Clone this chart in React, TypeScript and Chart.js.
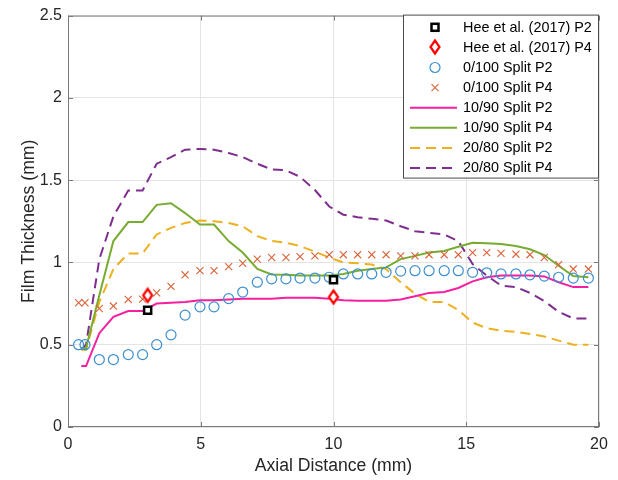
import React, { useEffect, useRef } from 'react';
import { Chart, registerables } from 'chart.js';

Chart.register(...registerables);

// ---------- data ----------
const legendLabels = [
  'Hee et al. (2017) P2',
  'Hee et al. (2017) P4',
  '0/100 Split P2',
  '0/100 Split P4',
  '10/90 Split P2',
  '10/90 Split P4',
  '20/80 Split P2',
  '20/80 Split P4',
];

const xTicks = [0, 5, 10, 15, 20];
const yTicks = [0, 0.5, 1, 1.5, 2, 2.5];

const heeX = [3, 10];
const heeP2 = [0.71, 0.895];
const heeP4 = [0.8, 0.79];

const markerX = [0.4, 0.64, 1.18, 1.71, 2.27, 2.81, 3.34, 3.88, 4.41, 4.97, 5.5, 6.05, 6.58, 7.13, 7.67, 8.21, 8.74, 9.3, 9.84, 10.37, 10.91, 11.44, 11.98, 12.53, 13.07, 13.6, 14.17, 14.7, 15.24, 15.77, 16.31, 16.87, 17.4, 17.94, 18.48, 19.03, 19.6];
const split0P2 = [0.5, 0.5, 0.41, 0.41, 0.44, 0.44, 0.5, 0.56, 0.68, 0.73, 0.73, 0.78, 0.82, 0.88, 0.9, 0.9, 0.905, 0.905, 0.91, 0.93, 0.93, 0.93, 0.94, 0.947, 0.95, 0.95, 0.95, 0.95, 0.94, 0.937, 0.93, 0.93, 0.925, 0.917, 0.91, 0.905, 0.905];
const split0P4 = [0.755, 0.755, 0.72, 0.735, 0.775, 0.777, 0.815, 0.855, 0.925, 0.95, 0.95, 0.975, 0.995, 1.02, 1.03, 1.03, 1.035, 1.04, 1.047, 1.047, 1.047, 1.047, 1.047, 1.04, 1.04, 1.047, 1.047, 1.047, 1.06, 1.06, 1.055, 1.05, 1.047, 1.03, 0.987, 0.96, 0.96];

const lineX = [0.5, 0.68, 1.18, 1.71, 2.27, 2.81, 3.34, 3.88, 4.41, 4.97, 5.5, 6.05, 6.58, 7.13, 7.67, 8.21, 8.74, 9.3, 9.84, 10.37, 10.91, 11.44, 11.98, 12.53, 13.07, 13.6, 14.17, 14.7, 15.24, 15.77, 16.31, 16.87, 17.4, 17.94, 18.48, 19.03, 19.6];
const split10P2 = [0.37, 0.37, 0.57, 0.67, 0.705, 0.705, 0.75, 0.755, 0.76, 0.77, 0.77, 0.775, 0.78, 0.78, 0.78, 0.785, 0.785, 0.785, 0.78, 0.77, 0.767, 0.767, 0.767, 0.775, 0.795, 0.815, 0.82, 0.845, 0.885, 0.91, 0.92, 0.92, 0.92, 0.915, 0.88, 0.85, 0.85];
const split10P4 = [0.48, 0.48, 0.8, 1.13, 1.245, 1.245, 1.35, 1.36, 1.3, 1.23, 1.23, 1.13, 1.06, 0.96, 0.927, 0.925, 0.92, 0.92, 0.92, 0.93, 0.95, 0.96, 0.97, 1.02, 1.04, 1.06, 1.07, 1.095, 1.12, 1.117, 1.112, 1.1, 1.08, 1.045, 0.98, 0.917, 0.91];
const split20P2 = [0.47, 0.47, 0.76, 0.96, 1.055, 1.055, 1.17, 1.21, 1.24, 1.255, 1.25, 1.24, 1.22, 1.16, 1.13, 1.12, 1.1, 1.065, 1.03, 1.0, 0.995, 0.987, 0.96, 0.88, 0.81, 0.76, 0.76, 0.71, 0.635, 0.6, 0.585, 0.578, 0.565, 0.55, 0.525, 0.5, 0.5];
const split20P4 = [0.47, 0.5, 1.02, 1.28, 1.437, 1.437, 1.6, 1.64, 1.685, 1.69, 1.685, 1.665, 1.64, 1.6, 1.565, 1.56, 1.52, 1.44, 1.34, 1.29, 1.275, 1.265, 1.255, 1.22, 1.19, 1.18, 1.17, 1.13, 0.99, 0.92, 0.86, 0.85, 0.815, 0.765, 0.7, 0.66, 0.66];

// ---------- styles ----------
const FONT = '"Liberation Sans", Arial, Helvetica, sans-serif';
const TEXT = '#262626';
const C_BLUE = '#3b8fd0';
const C_ORANGE = '#d9633a';
const C_MAGENTA = '#f61fa0';
const C_GREEN = '#77ac30';
const C_YELLOW = '#edb120';
const C_PURPLE = '#7e2f8e';
const DASH = [10, 6];

const pts = (xs: number[], ys: number[]) => xs.map((x, i) => ({ x, y: ys[i] }));

function makeDiamond(): HTMLCanvasElement {
  const c = document.createElement('canvas');
  c.width = 14;
  c.height = 18;
  const g = c.getContext('2d')!;
  g.strokeStyle = '#ff0000';
  g.fillStyle = '#ffffff';
  g.lineWidth = 2.2;
  g.beginPath();
  g.moveTo(7, 2.5);
  g.lineTo(11.5, 9);
  g.lineTo(7, 15.5);
  g.lineTo(2.5, 9);
  g.closePath();
  g.fill();
  g.stroke();
  return c;
}

const boxPlugin = {
  id: 'boxAndLegend',
  afterDraw(chart: any) {
    const { ctx, chartArea: a, scales } = chart;
    const xs = scales.x;
    const ys = scales.y;
    ctx.save();
    // axes box
    ctx.strokeStyle = '#7a7a7a';
    ctx.lineWidth = 1;
    ctx.strokeRect(a.left + 0.5, a.top + 0.5, a.right - a.left - 1, a.bottom - a.top - 1);
    // inward ticks
    ctx.beginPath();
    xTicks.forEach((v) => {
      const px = Math.round(xs.getPixelForValue(v)) + 0.5;
      ctx.moveTo(px, a.bottom);
      ctx.lineTo(px, a.bottom - 5);
      ctx.moveTo(px, a.top);
      ctx.lineTo(px, a.top + 5);
    });
    yTicks.forEach((v) => {
      const py = Math.round(ys.getPixelForValue(v)) + 0.5;
      ctx.moveTo(a.left, py);
      ctx.lineTo(a.left + 5, py);
      ctx.moveTo(a.right, py);
      ctx.lineTo(a.right - 5, py);
    });
    ctx.stroke();

    // legend
    const L = { left: a.right - 196, top: a.top - 1, width: 196, height: 164 };
    ctx.fillStyle = '#ffffff';
    ctx.fillRect(L.left, L.top, L.width, L.height);
    ctx.strokeStyle = '#4a4a4a';
    ctx.lineWidth = 1;
    ctx.strokeRect(L.left + 0.5, L.top + 0.5, L.width - 1, L.height - 1);

    const mx = L.left + 32;
    const lx0 = L.left + 7;
    const lx1 = L.left + 54;
    const tx = L.left + 60;
    const diamond = makeDiamond();
    legendLabels.forEach((label, i) => {
      const y = L.top + 12.7 + i * 20.1;
      ctx.save();
      ctx.setLineDash([]);
      if (i === 0) {
        ctx.strokeStyle = '#000';
        ctx.fillStyle = '#fff';
        ctx.lineWidth = 2.5;
        ctx.fillRect(mx - 3.5, y - 3.5, 7, 7);
        ctx.strokeRect(mx - 3.5, y - 3.5, 7, 7);
      } else if (i === 1) {
        ctx.drawImage(diamond, Math.round(mx - 7), Math.round(y - 9));
      } else if (i === 2) {
        ctx.strokeStyle = C_BLUE;
        ctx.lineWidth = 1.2;
        ctx.beginPath();
        ctx.arc(mx, y, 5, 0, Math.PI * 2);
        ctx.stroke();
      } else if (i === 3) {
        ctx.strokeStyle = C_ORANGE;
        ctx.lineWidth = 1.1;
        const r = 3.5;
        ctx.beginPath();
        ctx.moveTo(mx - r, y - r);
        ctx.lineTo(mx + r, y + r);
        ctx.moveTo(mx + r, y - r);
        ctx.lineTo(mx - r, y + r);
        ctx.stroke();
      } else {
        const colors = [C_MAGENTA, C_GREEN, C_YELLOW, C_PURPLE];
        ctx.strokeStyle = colors[i - 4];
        ctx.lineWidth = 2;
        if (i >= 6) ctx.setLineDash(DASH);
        ctx.beginPath();
        ctx.moveTo(lx0, y);
        ctx.lineTo(lx1, y);
        ctx.stroke();
      }
      ctx.restore();
      ctx.fillStyle = '#000';
      ctx.font = `14.4px ${FONT}`;
      ctx.textBaseline = 'middle';
      ctx.textAlign = 'left';
      ctx.fillText(label, tx, y + 0.5);
    });
    ctx.restore();
  },
};

export default function App() {
  const ref = useRef<HTMLCanvasElement>(null);

  useEffect(() => {
    if (!ref.current) return;
    const diamond = makeDiamond();
    const lineDs = (label: string, ys: number[], color: string, dash: number[] | undefined) => ({
      label,
      data: pts(lineX, ys),
      showLine: true,
      borderColor: color,
      backgroundColor: color,
      borderWidth: 2,
      borderDash: dash || [],
      pointRadius: 0,
      tension: 0,
      fill: false,
    });
    const chart = new Chart(ref.current, {
      type: 'scatter',
      data: {
        datasets: [
          {
            label: legendLabels[0],
            data: pts(heeX, heeP2),
            pointStyle: 'rect',
            pointRadius: 5,
            borderColor: '#000',
            backgroundColor: '#fff',
            borderWidth: 2.5,
            showLine: false,
          },
          {
            label: legendLabels[1],
            data: pts(heeX, heeP4),
            pointStyle: diamond as any,
            pointRadius: 7,
            borderColor: '#ff0000',
            backgroundColor: '#fff',
            showLine: false,
          },
          {
            label: legendLabels[2],
            data: pts(markerX, split0P2),
            pointStyle: 'circle',
            pointRadius: 5,
            borderColor: C_BLUE,
            backgroundColor: 'rgba(0,0,0,0)',
            borderWidth: 1.2,
            showLine: false,
          },
          {
            label: legendLabels[3],
            data: pts(markerX, split0P4),
            pointStyle: 'crossRot',
            pointRadius: 5,
            borderColor: C_ORANGE,
            backgroundColor: C_ORANGE,
            borderWidth: 1.1,
            showLine: false,
          },
          lineDs(legendLabels[4], split10P2, C_MAGENTA, undefined),
          lineDs(legendLabels[5], split10P4, C_GREEN, undefined),
          lineDs(legendLabels[6], split20P2, C_YELLOW, DASH),
          lineDs(legendLabels[7], split20P4, C_PURPLE, DASH),
        ] as any,
      },
      options: {
        animation: false,
        responsive: false,
        devicePixelRatio: 1,
        events: [],
        layout: { padding: { left: 0, right: 19, top: 10, bottom: 0 } },
        plugins: {
          legend: { display: false },
          tooltip: { enabled: false },
        },
        scales: {
          x: {
            type: 'linear',
            min: 0,
            max: 20,
            afterBuildTicks: (s: any) => {
              s.ticks = xTicks.map((v) => ({ value: v }));
            },
            afterFit: (s: any) => {
              s.height = 53;
            },
            ticks: {
              font: { size: 16, family: FONT },
              color: TEXT,
              padding: 8,
              maxRotation: 0,
              callback: (v: any) => String(v),
            },
            grid: { color: '#e4e4e4', drawTicks: false, lineWidth: 1 },
            border: { display: false },
            title: {
              display: true,
              text: 'Axial Distance (mm)',
              font: { size: 17.6, family: FONT },
              color: TEXT,
              padding: { top: 0, bottom: 3.4 },
            },
          },
          y: {
            type: 'linear',
            min: 0,
            max: 2.5,
            afterBuildTicks: (s: any) => {
              s.ticks = yTicks.map((v) => ({ value: v }));
            },
            afterFit: (s: any) => {
              s.width = 68;
            },
            ticks: {
              font: { size: 16, family: FONT },
              color: TEXT,
              padding: 6,
              callback: (v: any) => String(v),
            },
            grid: { color: '#e4e4e4', drawTicks: false, lineWidth: 1 },
            border: { display: false },
            title: {
              display: true,
              text: 'Film Thickness (mm)',
              font: { size: 17.6, family: FONT },
              color: TEXT,
              padding: { top: 19, bottom: 0 },
            },
          },
        },
      } as any,
      plugins: [boxPlugin],
    });
    return () => chart.destroy();
  }, []);

  return (
    <div style={{ position: 'absolute', left: 0, top: 0, width: 618, height: 480, background: '#fff' }}>
      <canvas ref={ref} width={618} height={480} style={{ display: 'block', width: 618, height: 480 }} />
    </div>
  );
}
